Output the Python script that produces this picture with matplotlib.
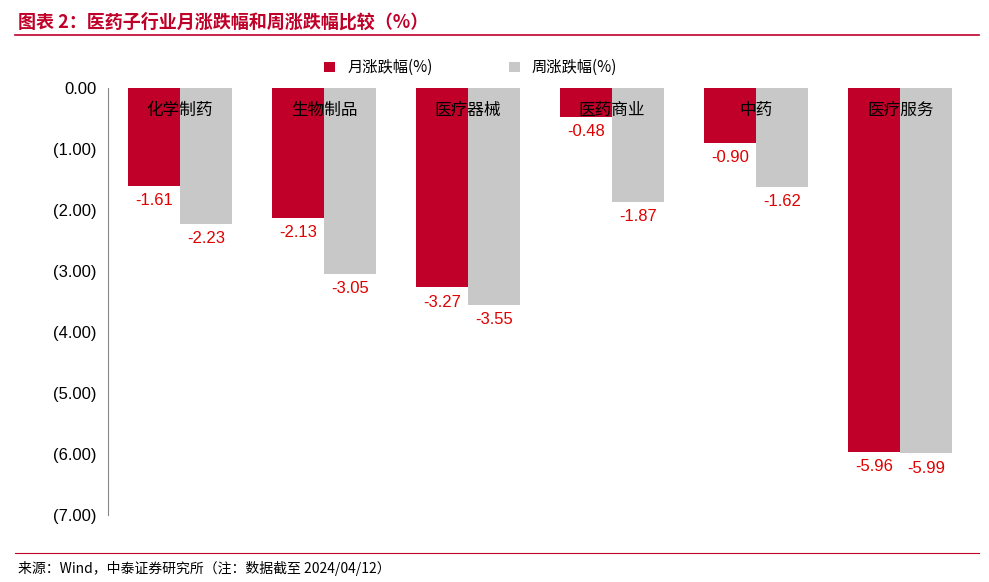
import matplotlib
matplotlib.use("Agg")
import matplotlib.pyplot as plt
import numpy as np

plt.rcParams['font.family'] = ['Noto Sans CJK SC', 'DejaVu Sans']

categories = ["化学制药", "生物制品", "医疗器械", "医药商业", "中药", "医疗服务"]
monthly = [-1.61, -2.13, -3.27, -0.48, -0.90, -5.96]
weekly = [-2.23, -3.05, -3.55, -1.87, -1.62, -5.99]
yticks = [0, -1, -2, -3, -4, -5, -6, -7]

red = "#C00028"
gray = "#C8C8C8"

fig = plt.figure(figsize=(9.89, 5.82), dpi=100)
ax = fig.add_axes([0.109, 0.115, 0.874, 0.734])
x = np.arange(len(categories))
w = 0.36
ax.bar(x - w/2, monthly, w, color=red, label="月涨跌幅(%)")
ax.bar(x + w/2, weekly, w, color=gray, label="周涨跌幅(%)")
ax.set_xlim(-0.5, len(categories) - 0.5)
ax.set_ylim(-7, 0)
ax.set_yticks(yticks)
ax.set_yticklabels(["0.00" if v == 0 else f"({abs(v):.2f})" for v in yticks], fontsize=12, family='Liberation Sans')
ax.set_xticks([])
for s in ["top", "right", "bottom"]:
    ax.spines[s].set_visible(False)
ax.spines["left"].set_color("#888888")
ax.tick_params(axis='y', length=0, pad=8)
for i, c in enumerate(categories):
    ax.text(i, -0.37, c, ha='center', va='center', fontsize=12)
for i, (m, wv) in enumerate(zip(monthly, weekly)):
    ax.text(i - w/2, m - 0.12, f"{m:.2f}", ha='center', va='top', color='#E00000', fontsize=12, family='Liberation Sans')
    ax.text(i + w/2, wv - 0.12, f"{wv:.2f}", ha='center', va='top', color='#E00000', fontsize=12, family='Liberation Sans')
ax.legend(loc='lower center', bbox_to_anchor=(0.42, 0.995), ncol=2, frameon=False, fontsize=11,
          handlelength=0.7, handleheight=0.7, columnspacing=5)

fig.text(0.018, 0.962, "图表 2：医药子行业月涨跌幅和周涨跌幅比较（%）", color=red, fontsize=13,
         fontweight='bold', style='italic', va='center')
fig.add_artist(plt.Line2D([0.015, 0.99], [0.94, 0.94], color=red, lw=1.2))
fig.add_artist(plt.Line2D([0.015, 0.99], [0.05, 0.05], color=red, lw=0.8))
fig.text(0.018, 0.024, "来源：Wind，中泰证券研究所（注：数据截至 2024/04/12）", fontsize=10, va='center')
fig.savefig("out.png", dpi=100)
